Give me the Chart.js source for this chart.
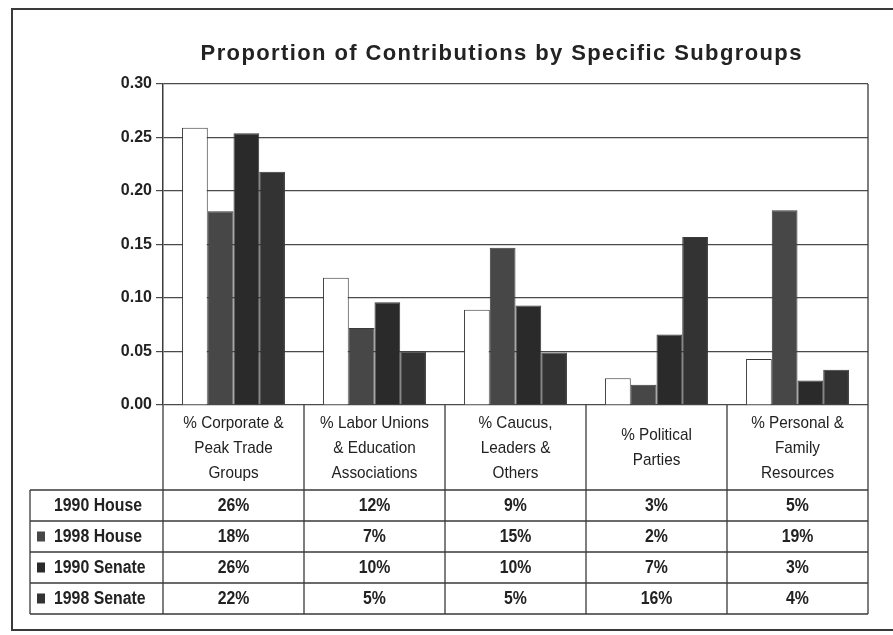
<!DOCTYPE html>
<html lang="en">
<head>
<meta charset="UTF-8">
<title>Proportion of Contributions by Specific Subgroups</title>
<script src="https://cdn.jsdelivr.net/npm/chart.js@4.4.6/dist/chart.umd.min.js"></script>
<style>
  html, body { margin: 0; padding: 0; background: #fff; overflow: hidden; }
  .frame {
    position: absolute; left: 11px; top: 8px; width: 900px; height: 623px;
    border: 2px solid #3a3a3a; box-sizing: border-box;
  }
  canvas { position: absolute; left: 0; top: 0; }
</style>
</head>
<body>
<div class="frame"></div>
<canvas id="chart" width="893" height="635"></canvas>
<script>
// ── Data ────────────────────────────────────────────────────────────────────
const chartTitle = 'Proportion of Contributions by Specific Subgroups';

const categories = [
  ['% Corporate &', 'Peak Trade', 'Groups'],
  ['% Labor Unions', '& Education', 'Associations'],
  ['% Caucus,', 'Leaders &', 'Others'],
  ['% Political', 'Parties'],
  ['% Personal &', 'Family', 'Resources'],
];

const seriesNames = ['1990 House', '1998 House', '1990 Senate', '1998 Senate'];

// bar heights
const house1990  = [0.259, 0.119, 0.089, 0.025, 0.043];
const house1998  = [0.181, 0.072, 0.147, 0.019, 0.182];
const senate1990 = [0.254, 0.096, 0.093, 0.066, 0.023];
const senate1998 = [0.218, 0.050, 0.049, 0.157, 0.033];

// printed table values
const tableHouse1990  = ['26%', '12%', '9%',  '3%',  '5%'];
const tableHouse1998  = ['18%', '7%',  '15%', '2%',  '19%'];
const tableSenate1990 = ['26%', '10%', '10%', '7%',  '3%'];
const tableSenate1998 = ['22%', '5%',  '5%',  '16%', '4%'];

const seriesColors = ['#ffffff', '#474747', '#2a2a2a', '#333333'];

// ── Fonts / helpers ─────────────────────────────────────────────────────────
const SANS = '"Liberation Sans", Arial, Helvetica, sans-serif';
const INK = '#222';
const LINE = '#3a3a3a';

const tableRows = [tableHouse1990, tableHouse1998, tableSenate1990, tableSenate1998];

// Arial-Narrow look: squeeze normal text horizontally
function narrowText(ctx, text, x, y, sx) {
  ctx.save();
  ctx.translate(x, y);
  ctx.scale(sx, 1);
  ctx.fillText(text, 0, 0);
  ctx.restore();
}

// Title, category header, data table and plot frame drawn on top of the chart
const dataTable = {
  id: 'dataTable',
  afterDraw(chart) {
    const { ctx, chartArea: a, scales: { x } } = chart;
    const n = categories.length;
    const colW = (a.right - a.left) / n;
    const headTop = a.bottom;
    const headBottom = headTop + 85;
    const rowH = 31;
    const tableLeft = 30;
    const tableBottom = headBottom + rowH * seriesNames.length;

    ctx.save();

    // title
    ctx.font = `bold 22px ${SANS}`;
    ctx.fillStyle = INK;
    ctx.textAlign = 'center';
    ctx.textBaseline = 'alphabetic';
    const w0 = ctx.measureText(chartTitle).width;
    const spacing = Math.max(0, (601 - w0) / (chartTitle.length - 1));
    ctx.letterSpacing = spacing.toFixed(2) + 'px';
    ctx.fillText(chartTitle, 501 + spacing / 2, 60);
    ctx.letterSpacing = '0px';

    // grid of the table
    ctx.strokeStyle = LINE;
    ctx.lineWidth = 1.3;
    ctx.beginPath();
    ctx.moveTo(a.right, a.top);  ctx.lineTo(a.right, tableBottom);
    ctx.moveTo(a.left, a.bottom); ctx.lineTo(a.left, tableBottom);
    for (let i = 1; i < n; i++) {
      const bx = a.left + i * colW;
      ctx.moveTo(bx, headTop); ctx.lineTo(bx, tableBottom);
    }
    ctx.moveTo(tableLeft, headBottom); ctx.lineTo(tableLeft, tableBottom);
    for (let r = 0; r <= seriesNames.length; r++) {
      const y = headBottom + r * rowH;
      ctx.moveTo(tableLeft, y); ctx.lineTo(a.right, y);
    }
    ctx.stroke();

    // category header
    ctx.font = `17px ${SANS}`;
    ctx.fillStyle = INK;
    ctx.textAlign = 'center';
    ctx.textBaseline = 'middle';
    const lh = 25;
    categories.forEach((lines, i) => {
      const cx = x.getPixelForValue(i);
      const mid = (headTop + headBottom) / 2 + 0.5;
      const y0 = mid - (lines.length - 1) * lh / 2;
      lines.forEach((t, k) => narrowText(ctx, t, cx, y0 + k * lh, 0.9));
    });

    // rows
    seriesNames.forEach((name, r) => {
      const cy = headBottom + r * rowH + rowH / 2 + 1;
      ctx.fillStyle = seriesColors[r];
      ctx.fillRect(37, cy - 6, 8, 10);
      ctx.font = `bold 18px ${SANS}`;
      ctx.fillStyle = INK;
      ctx.textAlign = 'left';
      narrowText(ctx, name, 54, cy, 0.88);
      ctx.textAlign = 'center';
      tableRows[r].forEach((v, i) => narrowText(ctx, v, x.getPixelForValue(i), cy, 0.88));
    });

    ctx.restore();
  },
};

const datasets = [house1990, house1998, senate1990, senate1998].map((data, i) => ({
  label: seriesNames[i],
  data,
  backgroundColor: seriesColors[i],
  borderColor: LINE,
  borderWidth: 1,
  categoryPercentage: 0.73,
  barPercentage: 1.0,
}));

new Chart(document.getElementById('chart'), {
  type: 'bar',
  data: { labels: categories.map(c => c.join(' ')), datasets },
  options: {
    responsive: false,
    animation: false,
    devicePixelRatio: 1,
    layout: { padding: { top: 84, left: 100, right: 25, bottom: 230 } },
    plugins: {
      legend: { display: false },
      tooltip: { enabled: false },
    },
    scales: {
      x: { display: false },
      y: {
        min: 0,
        max: 0.3,
        afterFit: s => { s.width = 63; },
        ticks: {
          stepSize: 0.05,
          padding: 4,
          color: INK,
          font: { family: SANS, size: 16, weight: 'bold' },
          callback: v => v.toFixed(2),
        },
        grid: { color: '#4a4a4a', lineWidth: 1.2, tickLength: 7 },
        border: { color: LINE, width: 1.5 },
      },
    },
  },
  plugins: [dataTable],
});
</script>
</body>
</html>
